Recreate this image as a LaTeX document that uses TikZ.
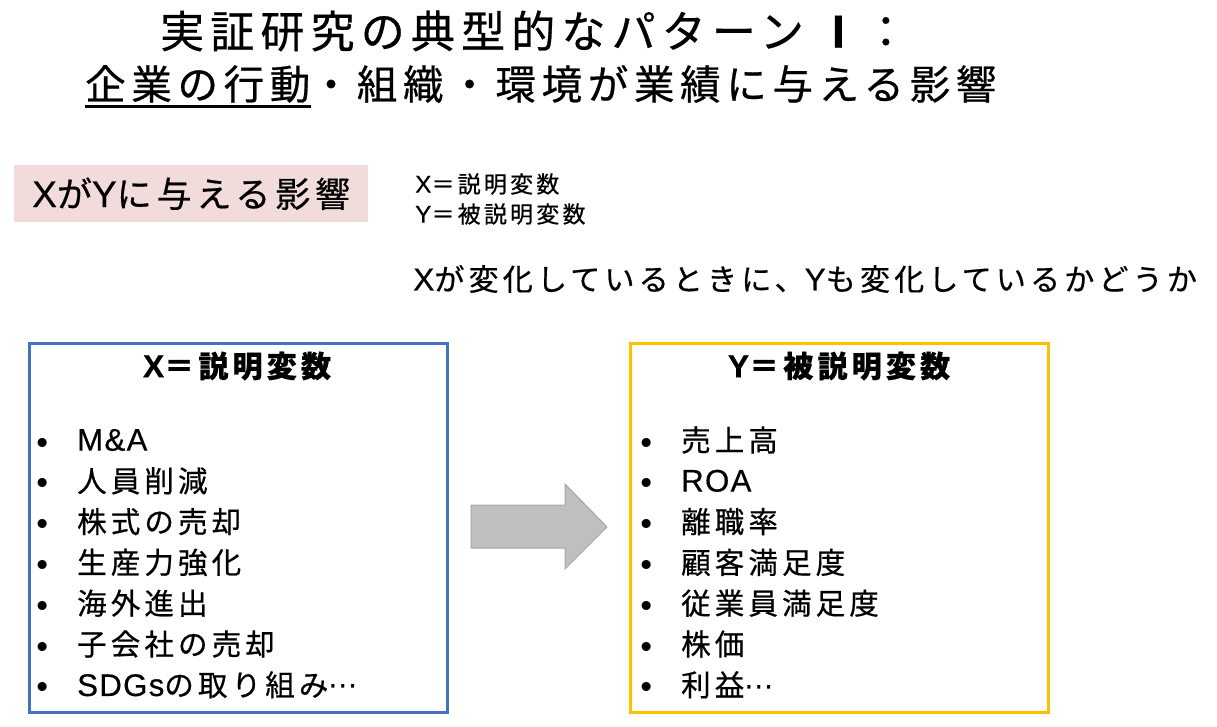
\documentclass[tikz,border=0pt]{standalone}
\usepackage{fontspec}
\setmainfont{Noto Sans CJK JP}[LetterSpace=14, FakeBold=0.6]
\newfontfamily\latf{Liberation Sans}[LetterSpace=4, Scale=1.06, FakeBold=0.4]
\newfontfamily\symf{DejaVu Sans}
\newcommand\lat[1]{{\latf #1}}
\newcommand\fsz[1]{\fontsize{#1}{#1}\selectfont}
\definecolor{xblue}{HTML}{4472C4}
\definecolor{yyellow}{HTML}{FFC000}
\definecolor{pinkbg}{HTML}{F2DCDB}
\definecolor{arrowfill}{HTML}{BFBFBF}
\definecolor{arrowline}{HTML}{A6A6A6}
\begin{document}
\begin{tikzpicture}[x=1pt,y=-1pt,
  txt/.style={inner sep=0pt, anchor=west},
  varbox/.style={line width=2.6pt, minimum width=418pt, minimum height=369pt, anchor=north west, inner sep=0pt},
  boxtitle/.style={inner sep=0pt, font=\fsz{30}\bfseries},
  itemtxt/.style={inner sep=0pt, anchor=west, font=\fsz{29.5}},
  bul/.style={inner sep=0pt, anchor=center, font=\fsz{31}\symf}]
\useasboundingbox (0,0) rectangle (1217,726);
% titles
\node[txt, font=\fsz{44}] (t1) at (160,31) {実証研究の典型的なパターン\hspace{28pt}{\bfseries\lat{I}}\hspace{19pt}：};
\node[txt, font=\fsz{40.5}] (t2a) at (85,84) {企業の行動};
\node[txt, font=\fsz{40.5}] (t2b) at (t2a.east) {・組織・環境が業績に与える影響};
\draw[line width=2.6pt] ([yshift=-3.5pt]t2a.south west) -- ([yshift=-3.5pt]t2a.south east);
% pink label
\node[fill=pinkbg, minimum width=354pt, minimum height=57pt, anchor=north west, inner sep=0pt, font=\fsz{35}] (xy) at (14,165) {\lat{X}が\lat{Y}に与える影響};
\node[txt, font=\fsz{23}] (d1) at (415,184) {\lat{X}＝説明変数};
\node[txt, font=\fsz{23}] (d2) at (415,214) {\lat{Y}＝被説明変数};
\node[txt, font=\fsz{30}] (s) at (413,279) {\lat{X}が変化しているときに、\lat{Y}も変化しているかどうか};
% boxes
\node[varbox, draw=xblue] (xbox) at (28,342) {};
\node[varbox, draw=yyellow] (ybox) at (629,342) {};
\node[boxtitle] (xt) at (237,366) {\lat{X}＝説明変数};
\node[boxtitle] (yt) at (839,366) {\lat{Y}＝被説明変数};
\foreach \t [count=\i from 0] in {\lat{M\&A},人員削減,株式の売却,生産力強化,海外進出,子会社の売却,{\lat{SDGs}の取り組み{\symf ⋯}}}{
  \node[bul] (xb\i) at (43,{446+40.8*\i}) {•};
  \node[itemtxt] (xi\i) at (77,{440+40.8*\i}) {\t};
}
\foreach \t [count=\i from 0] in {売上高,\lat{ROA},離職率,顧客満足度,従業員満足度,株価,{利益{\symf ⋯}}}{
  \node[bul] (yb\i) at (647,{446+40.8*\i}) {•};
  \node[itemtxt] (yi\i) at (681,{440+40.8*\i}) {\t};
}
% block arrow
\draw[fill=arrowfill, draw=arrowline, line width=1pt]
  (471,505) -- (565,505) -- (565,484) -- (607,527) -- (565,569) -- (565,548) -- (471,548) -- cycle;
\end{tikzpicture}
\end{document}
